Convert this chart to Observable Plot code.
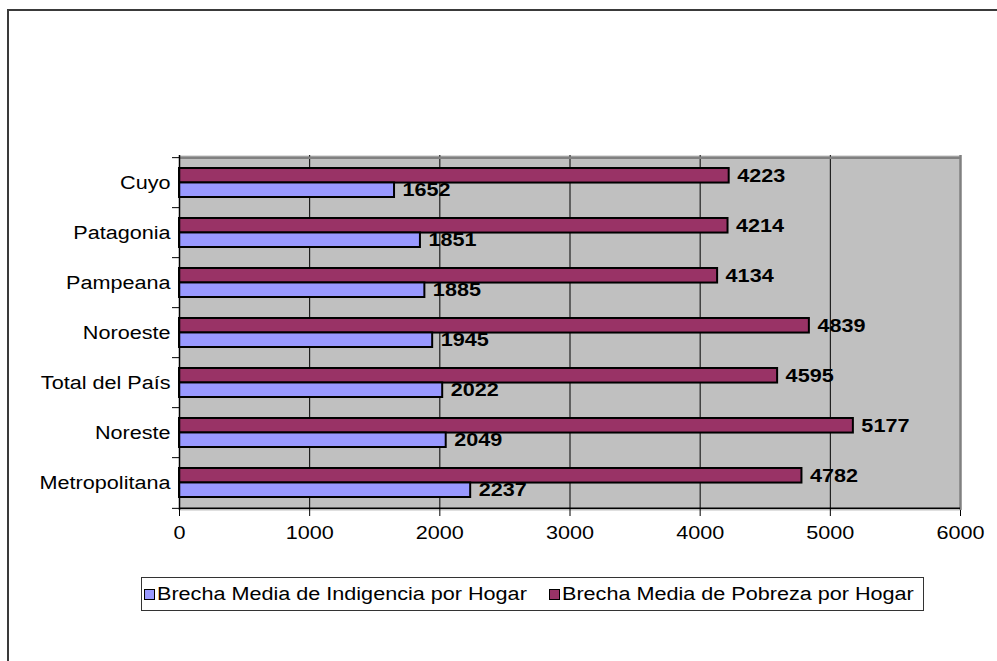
<!DOCTYPE html>
<html><head><meta charset="utf-8">
<script src="https://cdn.jsdelivr.net/npm/d3@7"></script>
<script src="https://cdn.jsdelivr.net/npm/@observablehq/plot@0.6"></script>
<style>
body{margin:0;background:#fff;font-family:"Liberation Sans",Arial,sans-serif;}
#wrap{position:relative;width:997px;height:661px;overflow:hidden;}
#frame{position:absolute;left:7px;top:9px;width:1100px;height:800px;border-top:2px solid #3a3a3a;border-left:2px solid #3a3a3a;}
#chart{position:absolute;left:0;top:0;}
#legend{position:absolute;left:141px;top:577px;width:779px;height:32px;border:1px solid #333;display:flex;align-items:center;padding-left:2px;box-sizing:content-box;font-size:18px;color:#000;white-space:nowrap;}
.item{display:inline-flex;align-items:center;margin-right:22px;}
.sw{display:inline-block;width:9px;height:9px;border:1.5px solid #000;margin-right:2px;}
.lab{display:inline-block;overflow:visible;}
.lab span{display:inline-block;transform-origin:0 50%;}
</style></head>
<body><div id="wrap"><div id="frame"></div><div id="chart"></div><div id="legend"></div></div>
<script>
const categories = ["Cuyo","Patagonia","Pampeana","Noroeste","Total del País","Noreste","Metropolitana"];
const indigencia = [1652,1851,1885,1945,2022,2049,2237];
const pobreza = [4223,4214,4134,4839,4595,5177,4782];
const seriesNames = ["Brecha Media de Indigencia por Hogar","Brecha Media de Pobreza por Hogar"];
const seriesColors = ["#9999FF","#993366"];
const xTicks = [0,1000,2000,3000,4000,5000,6000];

const STRETCH = 1.2;
const rowsI = categories.map((c,i)=>({cat:c, value:indigencia[i], series:seriesNames[0]}));
const rowsP = categories.map((c,i)=>({cat:c, value:pobreza[i], series:seriesNames[1]}));

const W=997, H=560, mT=155, mB=50, mL=179, mR=37;
const plotH = H-mT-mB;
const pInner = 0.43, pOuter = pInner/2;
const step = plotH/categories.length;
const half = step*(1-pInner)/2;
const font = '"Liberation Sans", Arial, sans-serif';

const chart = Plot.plot({
  width:W, height:H, marginTop:mT, marginBottom:mB, marginLeft:mL, marginRight:mR,
  style:{fontFamily:font, fontSize:"18px", color:"#000", background:"transparent", overflow:"visible"},
  x:{domain:[xTicks[0], xTicks[xTicks.length-1]]},
  y:{domain:categories, paddingInner:pInner, paddingOuter:pOuter},
  color:{domain:seriesNames, range:seriesColors},
  marks:[
    Plot.frame({fill:"#C0C0C0"}),
    Plot.gridX(xTicks,{stroke:"#000", strokeOpacity:1, strokeWidth:1}),
    Plot.barX(rowsP,{x:"value", y:"cat", fill:"series", stroke:"#000", strokeWidth:2, insetBottom:half}),
    Plot.barX(rowsI,{x:"value", y:"cat", fill:"series", stroke:"#000", strokeWidth:2, insetTop:half}),
    Plot.ruleX([xTicks[xTicks.length-1]],{stroke:"#808080", strokeWidth:2.5}),
    Plot.ruleY([categories[0]],{dy:-step/2, stroke:"#808080", strokeWidth:2.5}),
    Plot.ruleY([categories[categories.length-1]],{dy:step/2, stroke:"#000", strokeWidth:1.5}),
    Plot.ruleX([xTicks[0]],{stroke:"#000", strokeWidth:1.5}),
    Plot.axisY({tickSize:0, tickPadding:9, label:null}),
    Plot.axisY({tickSize:7, tickFormat:()=>"", dy:-step/2, label:null}),
    Plot.axisY([categories[categories.length-1]],{tickSize:7, tickFormat:()=>"", dy:step/2, label:null}),
    Plot.axisX(xTicks,{tickSize:6, tickPadding:10, label:null, tickFormat:d=>String(d)}),
    Plot.text(rowsP,{x:"value", y:"cat", text:d=>String(d.value), dx:8, dy:-half/2, textAnchor:"start", fontWeight:"bold"}),
    Plot.text(rowsI,{x:"value", y:"cat", text:d=>String(d.value), dx:8, dy:half/2, textAnchor:"start", fontWeight:"bold"})
  ]
});
document.getElementById("chart").appendChild(chart);

// horizontal stretch of glyphs to match the reference's wide lettering
chart.querySelectorAll("text").forEach(t=>{
  const w = t.getComputedTextLength();
  if (w>0){ t.setAttribute("textLength", w*STRETCH); t.setAttribute("lengthAdjust","spacingAndGlyphs"); }
});

const legend = document.getElementById("legend");
seriesNames.forEach((name,i)=>{
  const item = document.createElement("div"); item.className="item";
  const sw = document.createElement("span"); sw.className="sw"; sw.style.background=seriesColors[i];
  const lab = document.createElement("span"); lab.className="lab";
  const inner = document.createElement("span"); inner.textContent=name;
  lab.appendChild(inner); item.appendChild(sw); item.appendChild(lab); legend.appendChild(item);
  const w = inner.getBoundingClientRect().width;
  lab.style.width = (w*STRETCH)+"px";
  inner.style.transform = `scaleX(${STRETCH})`;
});
</script></body></html>
